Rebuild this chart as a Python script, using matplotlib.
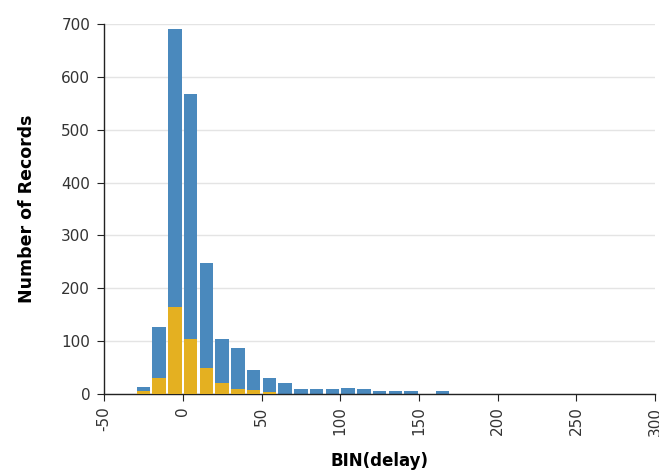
import numpy as np
import matplotlib
matplotlib.use("Agg")
import matplotlib.pyplot as plt

plt.rcParams['font.family'] = ['DejaVu Sans']
plt.rcParams['axes.unicode_minus'] = False

# bin starts (width 10) and counts
bin_start = [-30, -20, -10, 0, 10, 20, 30, 40, 50, 60, 70, 80, 90, 100, 110, 120, 130, 140, 160]
total = [13, 127, 690, 568, 247, 105, 88, 45, 30, 21, 10, 10, 10, 12, 10, 5, 5, 5, 5]
orange = [5, 30, 165, 105, 50, 21, 10, 8, 3, 0, 0, 0, 0, 0, 0, 0, 0, 0, 0]

blue_c = '#4a89bd'
orange_c = '#e4b021'

fig = plt.figure(figsize=(6.59, 4.74), dpi=100)
ax = fig.add_axes([0.158, 0.1687, 0.836, 0.7807])

x = np.array(bin_start) + 5
ax.bar(x, total, width=8.6, color=blue_c, zorder=2)
ax.bar(x, orange, width=8.6, color=orange_c, zorder=3)

ax.set_xlim(-50, 300)
ax.set_ylim(0, 700)
ax.set_xticks(np.arange(-50, 301, 50))
ax.set_yticks(np.arange(0, 701, 100))
ax.tick_params(axis='x', labelrotation=90, labelsize=11, length=5, color='#222222', labelcolor='#333333', pad=4)
ax.tick_params(axis='y', labelsize=11, length=5, color='#222222', labelcolor='#333333', pad=5)
ax.grid(axis='y', color='#e4e4e4', linewidth=1, zorder=0)
ax.set_axisbelow(True)
for s in ['top', 'right']:
    ax.spines[s].set_visible(False)
for s in ['left', 'bottom']:
    ax.spines[s].set_color('#222222')
    ax.spines[s].set_linewidth(1)

ax.set_xlabel('BIN(delay)', fontsize=12, fontweight='bold', labelpad=12)
ax.set_ylabel('Number of Records', fontsize=12.5, fontweight='bold', labelpad=18)

fig.savefig('out.png', dpi=100)
